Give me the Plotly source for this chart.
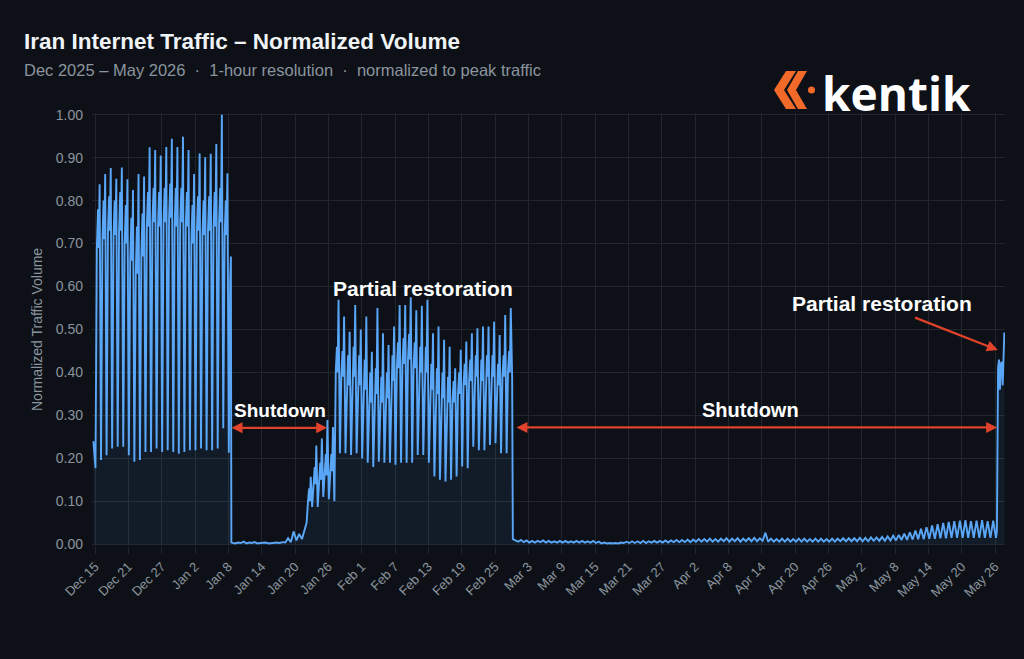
import pandas as pd
import plotly.graph_objects as go

# ---------------- data ----------------
lead_times = ["2025-12-14 17:00"]
lead_vals = [0.24]

# Phase 1 (normal traffic), one entry per day, Dec 15 .. Jan 7
p1_start = "2025-12-15"
p1_trough = [0.177, 0.196, 0.207, 0.223, 0.227, 0.227, 0.207, 0.192, 0.196, 0.215,
             0.215, 0.223, 0.215, 0.219, 0.215, 0.211, 0.215, 0.219, 0.219, 0.223,
             0.219, 0.219, 0.223, 0.270]
p1_low = [0.69, 0.71, 0.73, 0.72, 0.73, 0.70, 0.66, 0.63, 0.67, 0.74,
          0.75, 0.74, 0.75, 0.76, 0.74, 0.75, 0.74, 0.70, 0.73, 0.72,
          0.73, 0.74, 0.75, 0.72]
p1_high = [0.78, 0.80, 0.81, 0.80, 0.82, 0.79, 0.76, 0.74, 0.77, 0.82,
           0.83, 0.82, 0.83, 0.84, 0.83, 0.83, 0.82, 0.79, 0.81, 0.80,
           0.81, 0.82, 0.83, 0.80]
p1_peak = [0.838, 0.862, 0.876, 0.851, 0.877, 0.850, 0.825, 0.862, 0.856, 0.924,
           0.918, 0.905, 0.925, 0.944, 0.925, 0.949, 0.918, 0.862, 0.910, 0.901,
           0.909, 0.932, 1.000, 0.864]

# Jan 8: last partial day before the cut
cut1_times = ["2026-01-08 02:00", "2026-01-08 08:00", "2026-01-08 11:00", "2026-01-08 13:00"]
cut1_vals = [0.213, 0.62, 0.67, 0.004]

# Shutdown 1, 12-hourly readings from Jan 8 18:00
sd1_start = "2026-01-08 18:00"
sd1_vals = [0.003, 0.002, 0.004, 0.003, 0.006, 0.002, 0.004, 0.003, 0.005, 0.002,
            0.003, 0.003, 0.004, 0.002, 0.003, 0.003, 0.004, 0.003, 0.005, 0.004,
            0.014, 0.005, 0.030, 0.009, 0.024, 0.012, 0.032]

# Early recovery, Jan 22 .. Jan 26
rec_start = "2026-01-22"
rec_trough = [0.050, 0.087, 0.087, 0.110, 0.105]
rec_low = [0.10, 0.14, 0.15, 0.16, 0.17]
rec_high = [0.13, 0.18, 0.19, 0.21, 0.21]
rec_peak = [0.157, 0.230, 0.246, 0.289, 0.273]

# Phase 2 (partial restoration), Jan 27 .. Feb 27
p2_start = "2026-01-27"
p2_trough = [0.100, 0.212, 0.212, 0.208, 0.212, 0.200, 0.190, 0.180, 0.192, 0.190,
             0.190, 0.185, 0.190, 0.190, 0.190, 0.208, 0.208, 0.190, 0.158, 0.150,
             0.146, 0.150, 0.158, 0.181, 0.177, 0.227, 0.219, 0.219, 0.231, 0.235,
             0.212, 0.212]
p2_low = [0.40, 0.39, 0.37, 0.39, 0.37, 0.36, 0.33, 0.35, 0.33, 0.34,
          0.38, 0.41, 0.42, 0.43, 0.41, 0.40, 0.40, 0.36, 0.35, 0.34,
          0.33, 0.33, 0.35, 0.37, 0.38, 0.39, 0.38, 0.39, 0.39, 0.37,
          0.39, 0.40]
p2_high = [0.46, 0.45, 0.44, 0.46, 0.44, 0.43, 0.40, 0.41, 0.39, 0.40,
           0.44, 0.47, 0.48, 0.49, 0.47, 0.46, 0.46, 0.42, 0.41, 0.40,
           0.39, 0.38, 0.40, 0.42, 0.43, 0.44, 0.43, 0.44, 0.44, 0.42,
           0.44, 0.45]
p2_peak = [0.569, 0.530, 0.495, 0.557, 0.500, 0.530, 0.448, 0.550, 0.491, 0.464,
           0.507, 0.557, 0.557, 0.575, 0.545, 0.555, 0.569, 0.491, 0.507, 0.476,
           0.460, 0.410, 0.453, 0.472, 0.491, 0.503, 0.507, 0.507, 0.518, 0.487,
           0.534, 0.550]

# Feb 28: second cut
cut2_times = ["2026-02-28 02:00", "2026-02-28 05:00", "2026-02-28 16:00"]
cut2_vals = [0.386, 0.012, 0.009]

# Phase 3 (shutdown 2), one trough/peak per day, Mar 1 .. May 25
p3_start = "2026-03-01"
p3_trough = [0.006, 0.005, 0.004, 0.004, 0.005, 0.004, 0.004, 0.004, 0.004, 0.004,
             0.004, 0.004, 0.004, 0.004, 0.003, 0.002, 0.002, 0.002, 0.002, 0.003,
             0.003, 0.003, 0.003, 0.003, 0.004, 0.004, 0.004, 0.004, 0.005, 0.005,
             0.005,
             0.005, 0.006, 0.006, 0.006, 0.006, 0.006, 0.007, 0.006, 0.007, 0.006,
             0.007, 0.007, 0.007, 0.008, 0.006, 0.006, 0.006, 0.006, 0.006, 0.006,
             0.006, 0.006, 0.006, 0.006, 0.006, 0.006, 0.006, 0.007, 0.007, 0.007,
             0.007, 0.007, 0.007, 0.008, 0.008, 0.008, 0.009, 0.009, 0.010, 0.010,
             0.011, 0.012, 0.012, 0.013, 0.013, 0.014, 0.014, 0.015, 0.015, 0.015,
             0.015, 0.015, 0.015, 0.015, 0.015]
p3_peak = [0.010, 0.009, 0.008, 0.008, 0.009, 0.008, 0.007, 0.008, 0.008, 0.007,
           0.008, 0.008, 0.007, 0.008, 0.006, 0.004, 0.003, 0.003, 0.004, 0.006,
           0.007, 0.007, 0.008, 0.007, 0.008, 0.008, 0.009, 0.009, 0.010, 0.010,
           0.011,
           0.011, 0.012, 0.012, 0.013, 0.012, 0.013, 0.014, 0.013, 0.014, 0.013,
           0.014, 0.015, 0.014, 0.027, 0.013, 0.012, 0.013, 0.013, 0.012, 0.013,
           0.013, 0.012, 0.013, 0.013, 0.012, 0.013, 0.013, 0.014, 0.014, 0.014,
           0.015, 0.015, 0.016, 0.016, 0.017, 0.018, 0.020, 0.022, 0.025, 0.028,
           0.032, 0.036, 0.040, 0.044, 0.047, 0.050, 0.052, 0.054, 0.055, 0.056,
           0.054, 0.055, 0.056, 0.054, 0.055]

# May 26-27: partial restoration
fin_times = ["2026-05-26 04:00", "2026-05-26 08:00", "2026-05-26 09:00", "2026-05-26 10:00",
             "2026-05-26 13:00", "2026-05-26 17:00", "2026-05-26 21:00", "2026-05-27 01:00",
             "2026-05-27 05:00", "2026-05-27 09:00", "2026-05-27 13:00", "2026-05-27 16:00"]
fin_vals = [0.015, 0.03, 0.13, 0.27, 0.41, 0.43, 0.36, 0.42, 0.425, 0.37, 0.42, 0.493]

tick_dates = ["2025-12-15", "2025-12-21", "2025-12-27", "2026-01-02", "2026-01-08",
              "2026-01-14", "2026-01-20", "2026-01-26", "2026-02-01", "2026-02-07",
              "2026-02-13", "2026-02-19", "2026-02-25", "2026-03-03", "2026-03-09",
              "2026-03-15", "2026-03-21", "2026-03-27", "2026-04-02", "2026-04-08",
              "2026-04-14", "2026-04-20", "2026-04-26", "2026-05-02", "2026-05-08",
              "2026-05-14", "2026-05-20", "2026-05-26"]
tick_labels = ["Dec 15", "Dec 21", "Dec 27", "Jan 2", "Jan 8", "Jan 14", "Jan 20",
               "Jan 26", "Feb 1", "Feb 7", "Feb 13", "Feb 19", "Feb 25", "Mar 3",
               "Mar 9", "Mar 15", "Mar 21", "Mar 27", "Apr 2", "Apr 8", "Apr 14",
               "Apr 20", "Apr 26", "May 2", "May 8", "May 14", "May 20", "May 26"]
y_ticks = [0.0, 0.1, 0.2, 0.3, 0.4, 0.5, 0.6, 0.7, 0.8, 0.9, 1.0]
y_labels = ["0.00", "0.10", "0.20", "0.30", "0.40", "0.50", "0.60", "0.70", "0.80", "0.90", "1.00"]

# ---------------- styles ----------------
BG = "#0d1117"
GRID = "#21262d"
LINE = "#5aa6f7"
FILL = "rgba(88,166,255,0.08)"
RED = "#e0422b"
ORANGE = "#f26a2a"
MUTED = "#8b949e"
FONT = "Liberation Sans, Arial, sans-serif"

W, H = 1024, 659
ML, MR, MT, MB = 92, 19, 113, 113


def px(x, y):
    return (x - ML) / (W - ML - MR), (H - MB - y) / (H - MT - MB)


def daily(start, cols, hours):
    xs, ys = [], []
    d0 = pd.Timestamp(start)
    for i, vals in enumerate(zip(*cols)):
        day = d0 + pd.Timedelta(days=i)
        for h, v in zip(hours, vals):
            xs.append(day + pd.Timedelta(hours=h))
            ys.append(v)
    return xs, ys


X, Y = [], []


def add(xs, ys):
    X.extend(pd.Timestamp(t) for t in xs)
    Y.extend(ys)


add(lead_times, lead_vals)
add(*daily(p1_start, (p1_trough, p1_low, p1_high, p1_low, p1_peak), (2, 8, 13, 16, 20)))
add(cut1_times, cut1_vals)
sd1_x = [pd.Timestamp(sd1_start) + pd.Timedelta(hours=12 * i) for i in range(len(sd1_vals))]
add(sd1_x, sd1_vals)
add(*daily(rec_start, (rec_trough, rec_low, rec_high, rec_low, rec_peak), (2, 8, 13, 16, 20)))
add(*daily(p2_start, (p2_trough, p2_low, p2_high, p2_low, p2_peak), (2, 8, 13, 16, 20)))
add(cut2_times, cut2_vals)
add(*daily(p3_start, (p3_trough, p3_peak), (4, 16)))
add(fin_times, fin_vals)

fig = go.Figure()
fig.add_trace(go.Scatter(x=X, y=Y, mode="lines", line=dict(color=LINE, width=1.9),
                         fill="tozeroy", fillcolor=FILL, hoverinfo="skip"))

annotations = []
# titles
tx, ty = px(22, 42)
annotations.append(dict(text="<b>Iran Internet Traffic – Normalized Volume</b>", x=tx, y=ty,
                        xref="paper", yref="paper", xanchor="left", yanchor="middle",
                        showarrow=False, font=dict(size=22.5, color="#f0f3f6", family=FONT)))
sx, sy = px(22, 70)
annotations.append(dict(text="Dec 2025 – May 2026 \u00a0·\u00a0 1-hour resolution \u00a0·\u00a0 normalized to peak traffic",
                        x=sx, y=sy, xref="paper", yref="paper", xanchor="left", yanchor="middle",
                        showarrow=False, font=dict(size=16.5, color=MUTED, family=FONT)))
# y axis title
yx, yy = px(37, 330)
annotations.append(dict(text="Normalized Traffic Volume", x=yx, y=yy, xref="paper", yref="paper",
                        textangle=-90, showarrow=False, xanchor="center", yanchor="middle",
                        font=dict(size=14, color=MUTED, family=FONT)))
# logo text
kx, ky = px(820, 93)
annotations.append(dict(text="<b>kentik</b>", x=kx, y=ky, xref="paper", yref="paper",
                        xanchor="left", yanchor="middle", showarrow=False,
                        font=dict(size=46, color="#ffffff", family="Open Sans, sans-serif")))

# labels
def label(text, cx, cy, size):
    lx, ly = px(cx, cy)
    annotations.append(dict(text="<b>%s</b>" % text, x=lx, y=ly, xref="paper", yref="paper",
                            xanchor="center", yanchor="middle", showarrow=False,
                            font=dict(size=size, color="#ffffff", family=FONT)))

label("Shutdown", 280, 410, 19)
label("Partial restoration", 423, 288, 21)
label("Shutdown", 750, 410, 20)
label("Partial restoration", 882, 303, 21)

# arrows
def arrow(x0, y0, x1, y1, both):
    d = dict(x=x1, y=y1, ax=x0, ay=y0, xref="x", yref="y", axref="x", ayref="y",
             text="", showarrow=True, arrowhead=2, arrowsize=1, arrowwidth=2.2,
             arrowcolor=RED, standoff=0, startstandoff=0)
    if both:
        d.update(arrowside="end+start", startarrowhead=2, startarrowsize=1)
    annotations.append(d)

arrow("2026-01-08 07:00", 0.271, "2026-01-25 19:00", 0.271, True)
arrow("2026-02-28 14:00", 0.272, "2026-05-26 09:00", 0.272, True)
arrow("2026-05-11 08:00", 0.529, "2026-05-26 12:00", 0.452, False)

# logo icon shapes
def path(pts):
    s = ""
    for i, (x, y) in enumerate(pts):
        a, b = px(x, y)
        s += ("M" if i == 0 else "L") + "%.5f,%.5f " % (a, b)
    return s + "Z"

shapes = []
outer = [(786, 71), (796, 71), (784, 90), (796, 109), (786, 109), (774, 90)]
inner = [(798, 71), (807, 71), (796, 90), (807, 109), (798, 109), (787, 90)]
for poly in (outer, inner):
    shapes.append(dict(type="path", path=path(poly), xref="paper", yref="paper",
                       fillcolor=ORANGE, line=dict(width=0)))
c0 = px(808, 93.5)
c1 = px(815, 86.5)
shapes.append(dict(type="circle", x0=c0[0], y0=c0[1], x1=c1[0], y1=c1[1], xref="paper",
                   yref="paper", fillcolor=ORANGE, line=dict(width=0)))

fig.update_layout(
    width=W, height=H, paper_bgcolor=BG, plot_bgcolor=BG, showlegend=False,
    margin=dict(l=ML, r=MR, t=MT, b=MB), font=dict(family=FONT, color=MUTED),
    annotations=annotations, shapes=shapes,
    xaxis=dict(type="date", range=["2025-12-14 11:00", "2026-05-27 19:00"],
               tickvals=tick_dates, ticktext=tick_labels, tickangle=-45,
               tickfont=dict(size=13, color=MUTED), showgrid=True, gridcolor=GRID,
               gridwidth=1, ticks="outside", ticklen=7, tickcolor=GRID,
               zeroline=False, showline=False),
    yaxis=dict(range=[-0.004, 1.004], tickvals=y_ticks, ticktext=y_labels,
               tickfont=dict(size=14, color=MUTED), showgrid=True, gridcolor=GRID,
               gridwidth=1, zeroline=False, showline=False, ticks="",
               ticklabelstandoff=8),
)

fig.write_html("out.html")
